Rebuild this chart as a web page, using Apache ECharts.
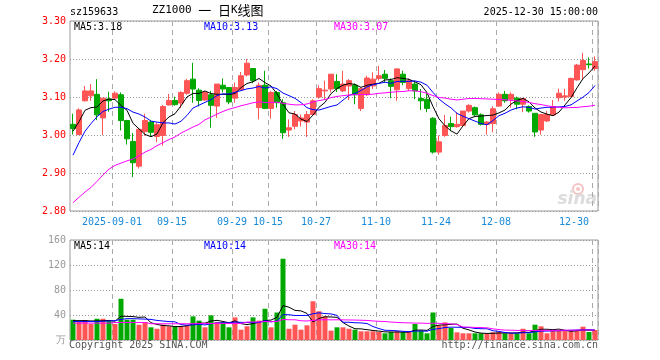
<!DOCTYPE html>
<html><head><meta charset="utf-8">
<script src="https://cdn.jsdelivr.net/npm/echarts/dist/echarts.min.js"></script>
<style>html,body{margin:0;padding:0;background:#fff}#c{width:660px;height:360px}</style>
</head><body><div id="c"></div>
<script>
const dates = [
'2025-08-21','2025-08-22','2025-08-25','2025-08-26','2025-08-27','2025-08-28','2025-08-29',
'2025-09-01','2025-09-02','2025-09-03','2025-09-04','2025-09-05','2025-09-08','2025-09-09','2025-09-10','2025-09-11','2025-09-12',
'2025-09-15','2025-09-16','2025-09-17','2025-09-18','2025-09-19','2025-09-22','2025-09-23','2025-09-24','2025-09-25','2025-09-26',
'2025-09-29','2025-09-30',
'2025-10-09','2025-10-10','2025-10-13','2025-10-14','2025-10-15','2025-10-16','2025-10-17','2025-10-20','2025-10-21','2025-10-22',
'2025-10-23','2025-10-24','2025-10-27','2025-10-28','2025-10-29','2025-10-30','2025-10-31',
'2025-11-03','2025-11-04','2025-11-05','2025-11-06','2025-11-07','2025-11-10','2025-11-11','2025-11-12','2025-11-13','2025-11-14',
'2025-11-17','2025-11-18','2025-11-19','2025-11-20','2025-11-21','2025-11-24','2025-11-25','2025-11-26','2025-11-27','2025-11-28',
'2025-12-01','2025-12-02','2025-12-03','2025-12-04','2025-12-05','2025-12-08','2025-12-09','2025-12-10','2025-12-11','2025-12-12',
'2025-12-15','2025-12-16','2025-12-17','2025-12-18','2025-12-19','2025-12-22','2025-12-23','2025-12-24','2025-12-25','2025-12-26',
'2025-12-29','2025-12-30'];
const tickDates = ['2025-09-01','2025-09-15','2025-09-29','2025-10-15','2025-10-27','2025-11-10','2025-11-24','2025-12-08','2025-12-30'];

const opens = [3.028,3.001,3.090,3.103,3.107,3.045,3.095,3.097,3.106,3.038,
2.983,2.918,3.009,3.034,2.996,2.999,3.079,3.091,3.084,3.110,
3.147,3.118,3.092,3.106,3.076,3.131,3.125,3.097,3.119,3.158,
3.175,3.072,3.131,3.070,3.112,3.085,3.013,3.023,3.037,3.034,
3.054,3.100,3.116,3.121,3.141,3.116,3.129,3.131,3.070,3.106,
3.129,3.149,3.160,3.143,3.119,3.160,3.122,3.134,3.096,3.094,
3.044,2.955,2.999,3.030,3.022,3.025,3.063,3.072,3.053,3.028,
3.030,3.076,3.107,3.094,3.097,3.081,3.075,3.057,3.013,3.037,
3.053,3.098,3.100,3.101,3.145,3.172,3.187,3.175];
const closes = [3.017,3.066,3.116,3.116,3.053,3.097,3.090,3.110,3.038,2.990,
2.927,3.015,3.038,3.007,3.027,3.075,3.091,3.080,3.112,3.143,
3.121,3.091,3.112,3.078,3.134,3.121,3.087,3.125,3.156,3.189,
3.143,3.131,3.070,3.112,3.085,3.006,3.019,3.054,3.045,3.054,
3.090,3.122,3.118,3.160,3.122,3.134,3.143,3.106,3.122,3.150,
3.147,3.156,3.149,3.128,3.174,3.138,3.143,3.116,3.090,3.070,
2.955,2.982,3.025,3.022,3.028,3.063,3.078,3.053,3.028,3.034,
3.069,3.107,3.090,3.107,3.081,3.096,3.063,3.008,3.054,3.054,
3.075,3.110,3.103,3.149,3.184,3.196,3.185,3.193];
const lows = [3.001,3.000,3.088,3.090,3.039,3.000,3.061,3.093,3.012,2.975,
2.889,2.912,2.998,2.996,2.981,2.972,3.078,3.077,3.071,3.106,
3.085,3.075,3.090,3.019,3.045,3.112,3.081,3.085,3.119,3.154,
3.136,3.041,3.068,3.043,3.072,2.990,2.995,3.015,3.022,2.995,
3.052,3.096,3.094,3.112,3.113,3.113,3.092,3.081,3.063,3.103,
3.121,3.143,3.138,3.097,3.090,3.131,3.116,3.094,3.066,3.060,
2.951,2.948,2.995,3.010,3.019,3.022,3.059,3.050,3.025,3.001,
3.007,3.075,3.085,3.072,3.068,3.060,3.059,2.995,3.001,3.034,
3.050,3.088,3.090,3.101,3.143,3.145,3.175,3.169];
const highs = [3.056,3.070,3.129,3.134,3.147,3.097,3.114,3.115,3.112,3.040,
3.005,3.015,3.056,3.040,3.033,3.079,3.108,3.101,3.115,3.148,
3.190,3.123,3.116,3.116,3.134,3.149,3.125,3.138,3.166,3.200,
3.175,3.138,3.169,3.116,3.116,3.094,3.041,3.063,3.054,3.063,
3.094,3.131,3.143,3.160,3.160,3.169,3.147,3.136,3.125,3.156,
3.165,3.182,3.171,3.149,3.175,3.169,3.149,3.143,3.121,3.112,
3.047,2.999,3.053,3.048,3.060,3.063,3.081,3.075,3.057,3.037,
3.076,3.112,3.116,3.112,3.101,3.098,3.078,3.057,3.054,3.063,
3.092,3.122,3.122,3.151,3.187,3.216,3.204,3.207];
const volumes = [32.5,28.8,32,25.6,34,34,31,25.6,66,32.5,
32.5,24.5,28.8,20.3,18,24.5,21.9,21.9,21.9,23.5,
37.8,31,20.3,39.4,28.8,28.8,20.3,36.2,16.5,21.9,
36.2,31,50,20.3,44,130,18,24.5,16.5,23.5,
62,46,37.8,15,20.3,20.3,18,16.5,13.9,13.9,
13.9,12.8,10.7,12.8,13.9,12.8,12.8,25.6,15,10.7,
44,23.5,28.2,19.2,12.3,10.7,10.7,10.7,10.7,9.6,
12.3,12.8,10.7,10.7,10.7,18,10.7,24.5,21.9,10.7,
15,15,15,13.9,15,21.3,12.8,16];

// moving-average values for the first days (their inputs lie before the window)
const ma5Head = [3.010,3.035,3.065,3.072];
const ma10Head = [2.947,2.980,3.010,3.030,3.048,3.062,3.068,3.073,3.073];
const ma30Head = [2.822,2.836,2.850,2.862,2.878,2.895,2.910,2.920,2.926,2.932,
2.937,2.945,2.955,2.962,2.972,2.980,2.988,2.995,3.005,3.013,
3.021,3.028,3.040,3.047,3.055,3.062,3.068,3.072,3.077];
const volMa5Head = [31,31,31,30.5];
const volMa10Head = [29.5,29.5,29.5,29.5,29.5,30,30.5,31,33];
const volMa30Head = [27,27,27,27,27,27,27,28,28,28,28,28,28,26,26,26,26,26,26,26,26,26.5,26.5,26.5,26.5,26.5,26.5,26.5,26.5];

const priceMin = 2.80, priceMax = 3.30, priceStep = 0.10;
const volMin = 0, volMax = 160, volStep = 40;
const legendPrice = ['MA5:3.18','MA10:3.13','MA30:3.07'];
const legendVol = ['MA5:14','MA10:14','MA30:14'];

function movingAvg(vals, n, head) {
  return vals.map((v, i) => {
    if (i < n - 1) return head[i];
    let s = 0; for (let j = i - n + 1; j <= i; j++) s += vals[j];
    return +(s / n).toFixed(4);
  });
}

const RED = '#ff5555', GREEN = '#00a800';
const MONO = '"DejaVu Sans Mono", monospace';
const tickSet = new Set(tickDates);
const isTick = (i, v) => tickSet.has(dates[i]);

const chart = echarts.init(document.getElementById('c'), null, {renderer: 'canvas'});
const grids = [
  {left: 70, right: 62, top: 21, height: 190, show: true, borderColor: '#999', borderWidth: 1},
  {left: 70, right: 62, top: 240, height: 100, show: true, borderColor: '#999', borderWidth: 1}
];
const xAxisCommon = {
  type: 'category', data: dates, boundaryGap: true,
  axisLine: {show: false}, axisTick: {show: false},
  splitLine: {show: true, interval: isTick, lineStyle: {color: '#aaa', type: [5, 4], width: 1}}
};
const lineCommon = {type: 'line', symbol: 'none', silent: true, animation: false, lineStyle: {width: 1}};
const option = {
  animation: false,
  grid: grids,
  xAxis: [
    Object.assign({}, xAxisCommon, {gridIndex: 0,
      axisLabel: {show: true, interval: isTick, color: '#1a8ad8', fontFamily: MONO, fontSize: 10, margin: 6,
        padding: [0, 6, 0, 0], alignMaxLabel: 'right',
        formatter: v => v === tickDates[0] ? v : v.slice(5)}}),
    Object.assign({}, xAxisCommon, {gridIndex: 1, axisLabel: {show: false}})
  ],
  yAxis: [
    {gridIndex: 0, type: 'value', min: priceMin, max: priceMax, interval: priceStep,
      axisLine: {show: false}, axisTick: {show: false},
      axisLabel: {color: '#ff0000', fontFamily: MONO, fontSize: 10, margin: 4, formatter: v => v.toFixed(2)},
      splitLine: {show: true, lineStyle: {color: '#999', type: [1, 2]}}},
    {gridIndex: 1, type: 'value', min: volMin, max: volMax, interval: volStep,
      axisLine: {show: false}, axisTick: {show: false},
      axisLabel: {color: '#999', fontFamily: MONO, fontSize: 10, margin: 4, formatter: v => v === 0 ? '万' : String(v)},
      splitLine: {show: true, lineStyle: {color: '#999', type: [1, 2]}}}
  ],
  series: [
    {type: 'candlestick', xAxisIndex: 0, yAxisIndex: 0, barWidth: 5, silent: true,
      data: dates.map((d, i) => [opens[i], closes[i], lows[i], highs[i]]),
      itemStyle: {color: RED, color0: GREEN, borderColor: RED, borderColor0: GREEN, borderColorDoji: RED, borderWidth: 1}},
    Object.assign({}, lineCommon, {xAxisIndex: 0, yAxisIndex: 0, data: movingAvg(closes, 5, ma5Head), lineStyle: {color: '#000', width: 1}}),
    Object.assign({}, lineCommon, {xAxisIndex: 0, yAxisIndex: 0, data: movingAvg(closes, 10, ma10Head), lineStyle: {color: '#0000ff', width: 1}}),
    Object.assign({}, lineCommon, {xAxisIndex: 0, yAxisIndex: 0, data: movingAvg(closes, 30, ma30Head), lineStyle: {color: '#ff00ff', width: 1}}),
    {type: 'bar', xAxisIndex: 1, yAxisIndex: 1, barWidth: 5, silent: true,
      data: volumes.map((v, i) => ({value: v, itemStyle: {color: closes[i] >= opens[i] ? RED : GREEN}}))},
    Object.assign({}, lineCommon, {xAxisIndex: 1, yAxisIndex: 1, data: movingAvg(volumes, 5, volMa5Head), lineStyle: {color: '#000', width: 1}}),
    Object.assign({}, lineCommon, {xAxisIndex: 1, yAxisIndex: 1, data: movingAvg(volumes, 10, volMa10Head), lineStyle: {color: '#0000ff', width: 1}}),
    Object.assign({}, lineCommon, {xAxisIndex: 1, yAxisIndex: 1, data: movingAvg(volumes, 30, volMa30Head), lineStyle: {color: '#ff00ff', width: 1}})
  ],
  graphic: [
    {type: 'text', left: 70, top: 7, style: {text: 'sz159633', font: '10px ' + MONO, fill: '#000'}},
    {type: 'text', left: 152, top: 4, style: {
      text: '{a|ZZ1000 }{b|一}{a| }{b|日}{a|K}{b|线图}',
      rich: {a: {fontSize: 11, fontFamily: '"DejaVu Sans Mono"', fill: '#000', verticalAlign: 'bottom', height: 16},
             b: {fontSize: 13, fontFamily: '"Noto Sans CJK SC"', fill: '#000', verticalAlign: 'bottom', height: 16}}}},
    {type: 'text', right: 62, top: 7, style: {text: '2025-12-30 15:00:00', font: '10px ' + MONO, fill: '#000'}},
    {type: 'text', left: 74, top: 22, style: {text: legendPrice[0], font: '10px ' + MONO, fill: '#000'}},
    {type: 'text', left: 204, top: 22, style: {text: legendPrice[1], font: '10px ' + MONO, fill: '#0000ff'}},
    {type: 'text', left: 334, top: 22, style: {text: legendPrice[2], font: '10px ' + MONO, fill: '#ff00ff'}},
    {type: 'text', left: 74, top: 241, style: {text: legendVol[0], font: '10px ' + MONO, fill: '#000'}},
    {type: 'text', left: 204, top: 241, style: {text: legendVol[1], font: '10px ' + MONO, fill: '#0000ff'}},
    {type: 'text', left: 334, top: 241, style: {text: legendVol[2], font: '10px ' + MONO, fill: '#ff00ff'}},
    {type: 'text', left: 69, top: 340, style: {text: 'Copyright 2025 SINA.COM', font: '10px ' + MONO, fill: '#555'}},
    {type: 'text', right: 62, top: 340, style: {text: 'http://finance.sina.com.cn', font: '10px ' + MONO, fill: '#555'}},
    {type: 'circle', shape: {cx: 578, cy: 189, r: 5}, style: {fill: 'none', stroke: '#f6c4c4', lineWidth: 2}},
    {type: 'circle', shape: {cx: 578, cy: 189, r: 2}, style: {fill: '#f6c4c4'}},
    {type: 'text', right: 63, top: 191, style: {text: 'sina', font: 'italic bold 17px "DejaVu Sans"', fill: '#dcdcdc'}}
  ]
};
chart.setOption(option);
</script>
</body></html>
